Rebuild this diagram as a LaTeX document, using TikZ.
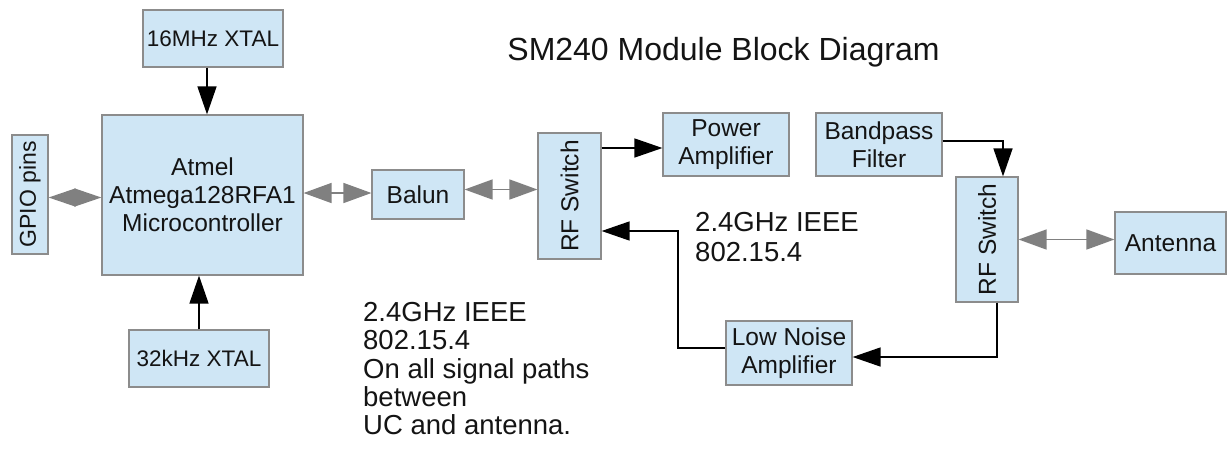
\documentclass[tikz,border=0pt]{standalone}
\usepackage{fontspec}
\setmainfont{Liberation Sans}
\usetikzlibrary{arrows.meta}
\definecolor{boxblue}{RGB}{207,230,245}
\definecolor{boxline}{RGB}{140,140,140}
\definecolor{txt}{RGB}{20,20,20}
\definecolor{garrow}{RGB}{128,128,128}
\begin{document}
\begin{tikzpicture}[x=1pt,y=-1pt,
  blockbox/.style={draw=boxline, line width=1.2pt, fill=boxblue, inner sep=0pt,
    align=center, text=txt, font=\fontsize{24.5}{28}\selectfont},
  xtalbox/.style={blockbox, font=\fontsize{22.5}{26}\selectfont},
  blkarrow/.style={draw=black, line width=1.5pt, -{Triangle[length=28pt,width=19pt]}},
  grayarrow/.style={draw=garrow, line width=1.5pt,
    {Triangle[length=28pt,width=20pt]}-{Triangle[length=28pt,width=20pt]}},
  gpioarrow/.style={draw=garrow, line width=1.5pt,
    {Triangle[length=27pt,width=18pt]}-{Triangle[length=27pt,width=18pt]}},
  plaintext/.style={text=txt, inner sep=0pt, align=left}]
\fill[white] (0,0) rectangle (1230,448);
\useasboundingbox (0,0) rectangle (1230,448);

% blocks
\node[xtalbox, minimum width=140pt, minimum height=57pt] (xtal16) at (213,38.5) {16MHz XTAL};
\node[blockbox, minimum width=201pt, minimum height=160pt] (atmel) at (202.5,195) {Atmel\\Atmega128RFA1\\Microcontroller};
\node[blockbox, rotate=90, minimum width=119pt, minimum height=36pt, font=\fontsize{23}{26}\selectfont] (gpio) at (30,194.5) {GPIO pins};
\node[xtalbox, minimum width=140pt, minimum height=57pt] (xtal32) at (199,358.5) {32kHz XTAL};
\node[blockbox, minimum width=92pt, minimum height=49pt] (balun) at (418,194.5) {Balun};
\node[blockbox, rotate=90, minimum width=126pt, minimum height=63pt] (rf1) at (569.5,196) {RF Switch};
\node[blockbox, minimum width=126pt, minimum height=63pt] (pa) at (726,144.5) {Power\\Amplifier};
\node[blockbox, minimum width=126pt, minimum height=63pt] (bpf) at (879,144.5) {Bandpass\\Filter};
\node[blockbox, rotate=90, minimum width=125pt, minimum height=62pt] (rf2) at (987,239.5) {RF Switch};
\node[blockbox, minimum width=111pt, minimum height=62pt] (ant) at (1170.5,243) {Antenna};
\node[blockbox, minimum width=126pt, minimum height=64pt] (lna) at (789,353) {Low Noise\\Amplifier};

% texts
\node[text=txt, font=\fontsize{32}{38}\selectfont] (title) at (723.5,52) {SM240 Module Block Diagram};
\node[plaintext, anchor=north west, font=\fontsize{27.5}{30}\selectfont] (midlbl) at (695,212) {2.4GHz IEEE\\802.15.4};
\node[plaintext, anchor=north west, font=\fontsize{27.5}{28.3}\selectfont] (botlbl) at (363,302) {2.4GHz IEEE\\802.15.4\\On all signal paths\\between\\UC and antenna.};

% connectors
\coordinate (x16out) at ([xshift=-6pt]xtal16.south);
\draw[blkarrow] (x16out) -- (x16out |- atmel.north);
\draw[blkarrow] (xtal32.north) -- (xtal32.north |- atmel.south);
\coordinate (gpioout) at ([yshift=-3pt]gpio.south);
\draw[gpioarrow] (gpioout) -- (gpioout -| atmel.west);
\coordinate (balin) at ([yshift=1.5pt]balun.west);
\draw[grayarrow] (balin -| atmel.east) -- (balin);
\coordinate (balout) at ([yshift=5pt]balun.east);
\draw[grayarrow] (balout) -- (balout -| rf1.north);
\coordinate (pain) at ([yshift=-3.5pt]pa.west);
\draw[blkarrow] (pain -| rf1.south) -- (pain);
\coordinate (lnaout) at ([yshift=5pt]lna.west);
\coordinate (bend) at (678,231);
\draw[blkarrow] (lnaout) -| (bend) -- (bend -| rf1.south);
\coordinate (bpfout) at ([yshift=3.5pt]bpf.east);
\draw[blkarrow] (bpfout) -| ([xshift=16pt]rf2.east);
\coordinate (lnain) at ([yshift=-4pt]lna.east);
\draw[blkarrow] ([xshift=10pt]rf2.west) |- (lnain);
\draw[grayarrow] (rf2.south) -- (rf2.south -| ant.west);
\end{tikzpicture}
\end{document}
